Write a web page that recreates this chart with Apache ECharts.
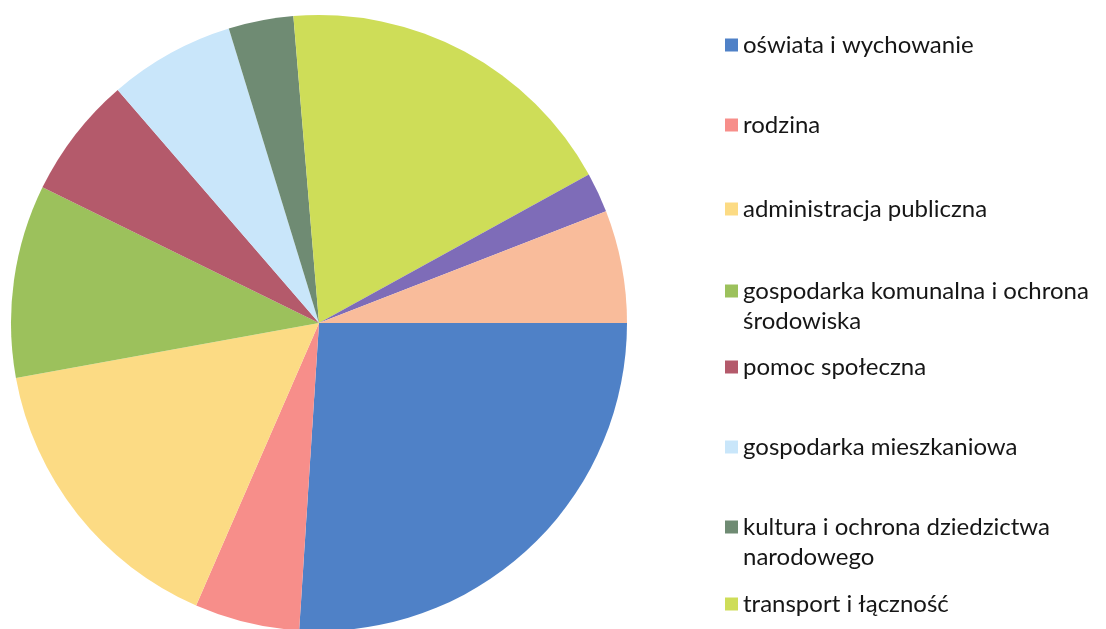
<!DOCTYPE html>
<html>
<head>
<meta charset="utf-8">
<script src="https://cdn.jsdelivr.net/npm/echarts@6/dist/echarts.min.js"></script>
<style>
html,body{margin:0;padding:0;background:#fff;}
#chart{width:1106px;height:629px;}
</style>
</head>
<body>
<div id="chart"></div>
<script>
// Categories (pie order, clockwise from 3 o'clock)
const categories = [
  'oświata i wychowanie',
  'rodzina',
  'administracja publiczna',
  'gospodarka komunalna i ochrona środowiska',
  'pomoc społeczna',
  'gospodarka mieszkaniowa',
  'kultura i ochrona dziedzictwa narodowego',
  'transport i łączność',
  'bezpieczeństwo publiczne i ochrona przeciwpożarowa',
  'pozostałe'
];
// Share of expenditure (%)
const values = [26.0, 5.5, 15.6, 10.1, 6.4, 6.6, 3.4, 18.3, 2.1, 5.9];
const colors = ['#4f81c7', '#f78e8a', '#fcdb84', '#9cc15c', '#b45a6b', '#c9e6fa', '#6f8b73', '#cedd58', '#7e6cb8', '#f9bc9b'];
// Legend entries visible in the picture (display text with line breaks)
const legendNames = categories.slice(0, 8);
const legendLabels = [
  'oświata i wychowanie',
  'rodzina',
  'administracja publiczna',
  'gospodarka komunalna i ochrona\nśrodowiska',
  'pomoc społeczna',
  'gospodarka mieszkaniowa',
  'kultura i ochrona dziedzictwa\nnarodowego',
  'transport i łączność'
];
const legendCenters = [45, 125, 209, 291, 367, 447, 527, 604];

const LH = 30;
const legends = legendNames.map((name, i) => {
  const multi = legendLabels[i].indexOf('\n') >= 0;
  return {
    orient: 'vertical',
    left: 725,
    top: multi ? legendCenters[i] - 1.5 * LH : legendCenters[i] - LH / 2,
    padding: 0,
    itemWidth: 13,
    itemHeight: 13,
    icon: 'rect',
    selectedMode: false,
    data: [name],
    // a leading blank line keeps the first text line level with the icon
    formatter: () => multi ? '\u00a0\n' + legendLabels[i] : legendLabels[i],
    textStyle: {
      fontFamily: 'Lato',
      fontSize: 24,
      color: '#161616',
      lineHeight: LH
    }
  };
});

const chart = echarts.init(document.getElementById('chart'), null, {renderer: 'canvas'});
chart.setOption({
  animation: false,
  color: colors,
  legend: legends,
  series: [{
    type: 'pie',
    center: [319, 323],
    radius: 308,
    startAngle: 0,
    clockwise: true,
    label: {show: false},
    labelLine: {show: false},
    emphasis: {disabled: true},
    itemStyle: {borderWidth: 0},
    data: categories.map((c, i) => ({name: c, value: values[i]}))
  }]
});
</script>
</body>
</html>
